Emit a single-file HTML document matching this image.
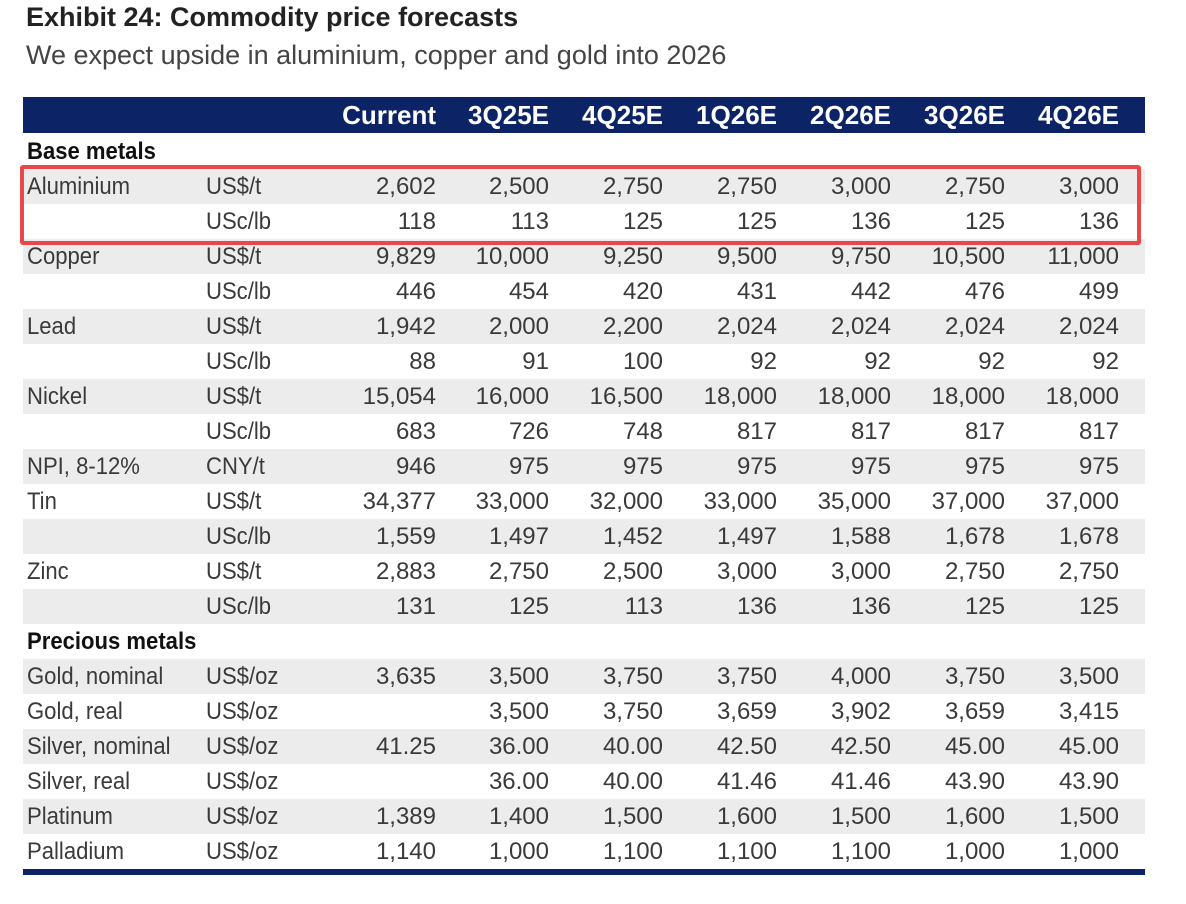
<!DOCTYPE html>
<html><head><style>
body{margin:0;width:1186px;height:904px;background:#fff;position:relative;overflow:hidden;font-family:"Liberation Sans",sans-serif;}
.t{position:absolute;white-space:nowrap;}
.title{left:26px;top:2px;font-size:27px;font-weight:bold;color:#222;}
.sub{left:26px;top:40px;font-size:27px;color:#444;}
.hdr{position:absolute;left:23px;top:97px;width:1122px;height:36px;background:#0c2365;}
.row{position:absolute;left:23px;width:1122px;height:35px;}
.g{background:#ececec;}
.c{position:absolute;font-size:24px;color:#3a3a3a;line-height:35px;white-space:nowrap;}
.l{transform:scaleX(0.92);transform-origin:left center;}
.r{text-align:right;width:110px;}
.h{color:#fff;font-weight:bold;font-size:26px;line-height:36px;}
.sec{font-weight:bold;color:#111;}
.bot{position:absolute;left:23px;top:869px;width:1122px;height:6px;background:#0c2365;}
.box{position:absolute;left:20px;top:165px;width:1113px;height:72px;border:4px solid #e8484a;border-radius:3px;}
</style></head><body>
<div class="t title">Exhibit 24: Commodity price forecasts</div>
<div class="t sub">We expect upside in aluminium, copper and gold into 2026</div>
<div class="hdr"></div>
<div id="tbl"></div>
<div class="bot"></div>
<div class="box"></div>
<script>
const cols=[436,549,663,777,891,1005,1119];
const hd=["Current","3Q25E","4Q25E","1Q26E","2Q26E","3Q26E","4Q26E"];
let h='';
hd.forEach((s,i)=>{h+=`<div class="c r h" style="left:${cols[i]-110}px;top:97px">${s}</div>`});
const rows=[
["sec","Base metals"],
["Aluminium","US$/t","2,602","2,500","2,750","2,750","3,000","2,750","3,000"],
["","USc/lb","118","113","125","125","136","125","136"],
["Copper","US$/t","9,829","10,000","9,250","9,500","9,750","10,500","11,000"],
["","USc/lb","446","454","420","431","442","476","499"],
["Lead","US$/t","1,942","2,000","2,200","2,024","2,024","2,024","2,024"],
["","USc/lb","88","91","100","92","92","92","92"],
["Nickel","US$/t","15,054","16,000","16,500","18,000","18,000","18,000","18,000"],
["","USc/lb","683","726","748","817","817","817","817"],
["NPI, 8-12%","CNY/t","946","975","975","975","975","975","975"],
["Tin","US$/t","34,377","33,000","32,000","33,000","35,000","37,000","37,000"],
["","USc/lb","1,559","1,497","1,452","1,497","1,588","1,678","1,678"],
["Zinc","US$/t","2,883","2,750","2,500","3,000","3,000","2,750","2,750"],
["","USc/lb","131","125","113","136","136","125","125"],
["sec","Precious metals"],
["Gold, nominal","US$/oz","3,635","3,500","3,750","3,750","4,000","3,750","3,500"],
["Gold, real","US$/oz","","3,500","3,750","3,659","3,902","3,659","3,415"],
["Silver, nominal","US$/oz","41.25","36.00","40.00","42.50","42.50","45.00","45.00"],
["Silver, real","US$/oz","","36.00","40.00","41.46","41.46","43.90","43.90"],
["Platinum","US$/oz","1,389","1,400","1,500","1,600","1,500","1,600","1,500"],
["Palladium","US$/oz","1,140","1,000","1,100","1,100","1,100","1,000","1,000"]];
let y=134,k=0;
rows.forEach(r=>{
 if(r[0]=="sec"){h+=`<div class="c sec l" style="left:27px;top:${y}px">${r[1]}</div>`;k=0;}
 else{
  if(k%2==0)h+=`<div class="row g" style="top:${y}px"></div>`;
  h+=`<div class="c l" style="left:27px;top:${y}px">${r[0]}</div><div class="c l" style="left:206px;top:${y}px">${r[1]}</div>`;
  for(let i=0;i<7;i++)h+=`<div class="c r" style="left:${cols[i]-110}px;top:${y}px">${r[i+2]}</div>`;
  k++;
 }
 y+=35;
});
document.getElementById('tbl').innerHTML=h;
</script>
</body></html>
